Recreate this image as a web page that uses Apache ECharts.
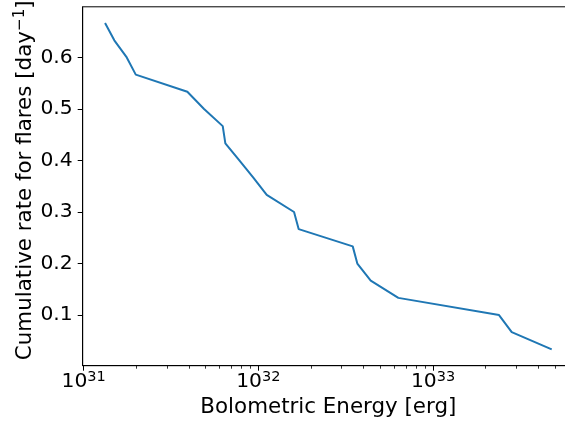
<!DOCTYPE html>
<html>
<head>
<meta charset="utf-8">
<script src="https://cdn.jsdelivr.net/npm/echarts@6/dist/echarts.min.js"></script>
<style>html,body{margin:0;padding:0;background:#fff}#c{width:565px;height:427px}</style>
</head>
<body>
<div id="c"></div>
<script>
// Bolometric energy [erg] of flares (sorted) and cumulative rate [day^-1]
var energies = [1.326e31, 1.498e31, 1.765e31, 1.988e31, 3.923e31, 4.89e31, 6.255e31, 6.474e31, 7.785e31, 9.36e31,
                1.117e32, 1.601e32, 1.703e32, 3.47e32, 3.687e32, 4.399e32, 6.33e32, 2.387e33, 2.822e33, 4.78e33];
var rates = [0.6667, 0.6333, 0.6, 0.5667, 0.5333, 0.5, 0.4667, 0.4333, 0.4, 0.3667,
             0.3333, 0.3, 0.2667, 0.2333, 0.2, 0.1667, 0.1333, 0.1, 0.0667, 0.0333];
var xMajorTicks = [1e31, 1e32, 1e33];
var xMinorTicks = [2e31,3e31,4e31,5e31,6e31,7e31,8e31,9e31,2e32,3e32,4e32,5e32,6e32,7e32,8e32,9e32,2e33,3e33,4e33,5e33,6e33];
var yTicks = [0.1, 0.2, 0.3, 0.4, 0.5, 0.6];
var xName = 'Bolometric Energy [erg]';
var yNameMain = 'Cumulative rate for flares [day';
var yNameSup = '\u22121';

var FONT = 'DejaVu Sans';
var TICK_FS = 20.3, NAME_FS = 21.4, SUP_FS = 14.5, NAME_SUP_FS = 15.2;
var xMin = Math.pow(10, 30.9946), xMax = Math.pow(10, 33.807);
var yMin = 0.0016667, yMax = 0.6983333;

var chart = echarts.init(document.getElementById('c'), null, {renderer: 'canvas'});
var data = energies.map(function (e, i) { return [e, rates[i]]; });

var option = {
  animation: false,
  backgroundColor: '#fff',
  grid: {
    left: 82.7, top: 6.8, width: 491.3, height: 358.9,
    show: true, borderColor: '#000', borderWidth: 1, backgroundColor: 'transparent',
    outerBoundsMode: 'none', containLabel: false
  },
  xAxis: [{
    type: 'log', logBase: 10, min: xMin, max: xMax,
    position: 'bottom',
    name: xName, nameLocation: 'middle', nameGap: 31,
    nameTextStyle: {fontFamily: FONT, fontSize: NAME_FS, color: '#000'},
    axisLine: {show: true, lineStyle: {color: '#000', width: 1}},
    axisTick: {show: true, length: 5, lineStyle: {color: '#000', width: 1}, customValues: xMajorTicks},
    axisLabel: {
      show: true, margin: 4, customValues: xMajorTicks,
      formatter: function (v) { return '{b|10}{s|' + Math.round(Math.log10(v)) + '}'; },
      rich: {
        b: {fontFamily: FONT, fontSize: TICK_FS, color: '#000', lineHeight: 24},
        s: {fontFamily: FONT, fontSize: SUP_FS, color: '#000', lineHeight: 14, verticalAlign: 'top'}
      }
    },
    splitLine: {show: false}, minorTick: {show: false}, minorSplitLine: {show: false}
  }, {
    type: 'log', logBase: 10, min: xMin, max: xMax,
    position: 'bottom',
    axisLine: {show: false},
    axisTick: {show: true, length: 3, lineStyle: {color: '#000', width: 0.8}, customValues: xMinorTicks},
    axisLabel: {show: false},
    splitLine: {show: false}
  }],
  yAxis: {
    type: 'value', min: yMin, max: yMax,
    name: '{m|' + yNameMain + '}{s|' + yNameSup + '}{m|]}',
    nameLocation: 'middle', nameGap: 45, nameRotate: 90, nameMoveOverlap: false,
    nameTextStyle: {
      fontFamily: FONT, fontSize: NAME_FS, color: '#000',
      padding: [0, 0, 0, 12],
      rich: {
        m: {fontFamily: FONT, fontSize: NAME_FS, color: '#000', lineHeight: 25},
        s: {fontFamily: FONT, fontSize: NAME_SUP_FS, color: '#000', lineHeight: 15, verticalAlign: 'top'}
      }
    },
    axisLine: {show: true, lineStyle: {color: '#000', width: 1}},
    axisTick: {show: true, length: 5, lineStyle: {color: '#000', width: 1}, customValues: yTicks},
    axisLabel: {
      show: true, margin: 10, customValues: yTicks,
      fontFamily: FONT, fontSize: TICK_FS, color: '#000',
      formatter: function (v) { return v.toFixed(1); }
    },
    splitLine: {show: false}
  },
  series: [{
    type: 'line', xAxisIndex: 0, yAxisIndex: 0,
    data: data, showSymbol: false, symbol: 'none',
    lineStyle: {color: '#1f77b4', width: 2},
    clip: true
  }]
};
chart.setOption(option);
</script>
</body>
</html>
